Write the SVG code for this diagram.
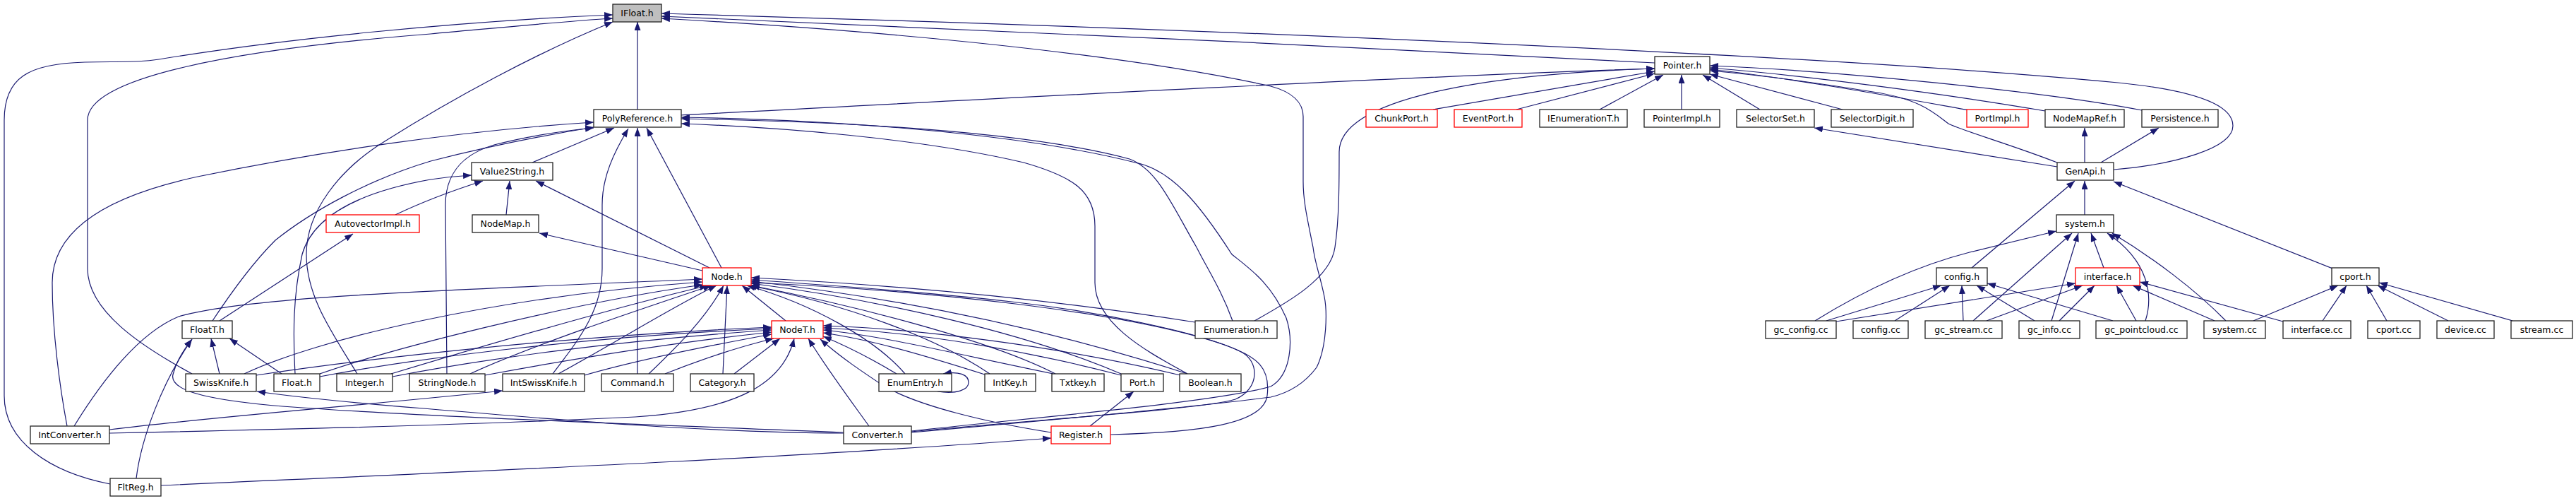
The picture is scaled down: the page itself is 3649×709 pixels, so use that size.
<svg xmlns="http://www.w3.org/2000/svg" width="3649" height="709" viewBox="0 0 3649 709">
<style>
.e{fill:none;stroke:#191970;stroke-width:1.2;marker-end:url(#ah)}
.b{fill:#fff;stroke:#222;stroke-width:1.3}
.r{fill:#fff;stroke:#ff0000;stroke-width:1.3}
.g{fill:#bfbfbf;stroke:#222;stroke-width:1.3}
text{font-family:"DejaVu Sans","Liberation Sans",sans-serif;font-size:12.5px;fill:#000;text-anchor:middle}
</style>
<defs>
<marker id="ah" markerWidth="12" markerHeight="9" refX="12" refY="4.5" orient="auto" markerUnits="userSpaceOnUse"><path d="M0,0 L12,4.5 L0,9 Z" fill="#191970"/></marker>
</defs>
<rect width="3649" height="709" fill="#fff"/>
<g id="edges">
<path class="e" d="M903,155 L903,31"/>
<path class="e" d="M2344,89 C1900,65 1300,38 937,23"/>
<path class="e" d="M2994,240 C3080,233 3163,210 3163,178 C3163,148 3110,128 3000,117 C2500,70 1500,35 937,19"/>
<path class="e" d="M1291,612 C1450,598 1700,575 1800,562 C1830,555 1850,540 1865,520 C1880,490 1880,440 1876,420 C1870,390 1862,370 1860,350 C1852,310 1846,285 1846,257 L1846,165 C1846,145 1830,130 1800,122 C1700,100 1450,55 937,26"/>
<path class="e" d="M272,529 C200,490 124,440 124,380 L124,170 C124,110 330,70 610,48 C720,38 800,30 868,26"/>
<path class="e" d="M156,685 C70,668 6,625 6,560 L6,170 C6,110 40,90 120,88 C180,87 200,88 225,84 C400,55 650,30 868,21"/>
<path class="e" d="M506,529 C470,470 434,420 434,360 C434,300 480,240 545,200 C640,140 760,75 868,31"/>
<path class="e" d="M964,163 C1400,140 2000,108 2344,97"/>
<path class="e" d="M1777,454 C1820,430 1885,395 1891,350 C1897,310 1897,260 1897,215 C1897,140 2100,105 2344,97"/>
<path class="e" d="M2030,155 L2344,101"/>
<path class="e" d="M2148,155 L2344,104"/>
<path class="e" d="M2266,155 L2356,106"/>
<path class="e" d="M2382,155 L2382,106"/>
<path class="e" d="M2493,155 L2412,106"/>
<path class="e" d="M2610,155 L2422,105"/>
<path class="e" d="M2914,230 C2850,205 2780,185 2760,175 C2740,160 2720,140 2653,130 C2560,115 2480,105 2422,100"/>
<path class="e" d="M2790,156 C2700,140 2550,112 2422,98"/>
<path class="e" d="M2897,157 C2750,132 2550,106 2422,96"/>
<path class="e" d="M3034,156 C2900,130 2600,100 2422,93"/>
<path class="e" d="M2953,304 L2953,256"/>
<path class="e" d="M2953,230 L2953,181"/>
<path class="e" d="M2914,236 L2570,181"/>
<path class="e" d="M2976,230 L3058,181"/>
<path class="e" d="M2793,379 L2939,256"/>
<path class="e" d="M3304,380 L2994,257"/>
<path class="e" d="M2571,454 C2650,405 2720,375 2790,357 L2913,327"/>
<path class="e" d="M2795,454 L2935,330"/>
<path class="e" d="M2906,454 L2944,330"/>
<path class="e" d="M2980,379 L2962,330"/>
<path class="e" d="M3039,454 C3050,420 3045,370 2985,330"/>
<path class="e" d="M3153,454 C3110,410 3050,365 2992,330"/>
<path class="e" d="M2587,454 L2750,404"/>
<path class="e" d="M2684,454 L2762,404"/>
<path class="e" d="M2781,454 L2779,404"/>
<path class="e" d="M2882,454 L2800,404"/>
<path class="e" d="M2993,454 L2815,401"/>
<path class="e" d="M2601,455 L2940,401"/>
<path class="e" d="M2814,454 L2950,404"/>
<path class="e" d="M2917,454 L2967,404"/>
<path class="e" d="M3026,454 L2998,404"/>
<path class="e" d="M3137,454 L3021,404"/>
<path class="e" d="M3234,455 L3031,399"/>
<path class="e" d="M3192,454 L3312,404"/>
<path class="e" d="M3290,454 L3324,404"/>
<path class="e" d="M3381,454 L3352,404"/>
<path class="e" d="M3468,454 L3368,404"/>
<path class="e" d="M3559,454 L3370,400"/>
<path class="e" d="M95,603 C85,550 74,470 74,400 C74,330 140,280 280,250 C450,215 650,185 841,173"/>
<path class="e" d="M301,454 C330,410 360,370 390,340 C440,300 520,255 610,228 C700,205 780,190 841,180"/>
<path class="e" d="M633,529 L631,290 C631,250 650,220 700,205 C750,192 800,185 841,181"/>
<path class="e" d="M783,529 C820,480 853,440 853,380 L853,290 C853,250 870,215 890,182"/>
<path class="e" d="M903,529 L903,181"/>
<path class="e" d="M1022,379 L916,181"/>
<path class="e" d="M754,230 L870,181"/>
<path class="e" d="M1746,454 C1730,410 1710,380 1695,350 C1660,290 1640,240 1600,225 C1450,185 1200,172 965,168"/>
<path class="e" d="M1682,529 C1630,500 1551,460 1551,400 L1551,320 C1551,270 1520,250 1450,230 C1300,195 1100,180 965,175"/>
<path class="e" d="M1291,610 C1450,592 1720,570 1800,547 C1830,530 1832,480 1822,450 C1800,400 1770,380 1745,360 C1700,290 1660,240 1608,230 C1450,190 1200,170 965,166"/>
<path class="e" d="M418,529 C415,470 415,420 428,360 C445,300 520,270 610,254 C630,251 650,249 668,248"/>
<path class="e" d="M560,304 C600,285 640,270 684,256"/>
<path class="e" d="M717,304 L722,256"/>
<path class="e" d="M1005,379 L759,256"/>
<path class="e" d="M995,383 L764,330"/>
<path class="e" d="M311,454 L500,331"/>
<path class="e" d="M105,603 C150,530 200,470 253,448 C350,420 600,412 995,395"/>
<path class="e" d="M346,529 C450,480 700,420 995,399"/>
<path class="e" d="M453,529 C550,495 800,430 995,403"/>
<path class="e" d="M554,529 C650,500 850,440 1003,404"/>
<path class="e" d="M666,529 C750,490 900,440 1008,404"/>
<path class="e" d="M791,529 C880,480 960,430 1015,404"/>
<path class="e" d="M919,529 C960,490 1000,450 1025,404"/>
<path class="e" d="M1024,529 L1030,404"/>
<path class="e" d="M1113,454 L1051,404"/>
<path class="e" d="M1693,456 C1500,425 1300,405 1064,393"/>
<path class="e" d="M1682,529 C1500,470 1300,425 1064,398"/>
<path class="e" d="M1588,529 C1450,470 1250,425 1064,401"/>
<path class="e" d="M1495,529 C1400,480 1200,430 1064,404"/>
<path class="e" d="M1402,529 C1330,480 1200,430 1060,404"/>
<path class="e" d="M1282,529 C1240,480 1150,430 1058,404"/>
<path class="e" d="M1291,611 C1450,595 1700,580 1750,565 C1785,550 1785,510 1756,497 C1700,470 1550,440 1433,427 C1300,412 1150,402 1064,396"/>
<path class="e" d="M1573,615 C1700,612 1790,600 1795,560 C1800,520 1780,505 1740,490 C1600,440 1300,410 1064,400"/>
<path class="e" d="M363,531 C500,510 800,475 1093,463"/>
<path class="e" d="M453,533 C600,505 850,475 1093,465"/>
<path class="e" d="M556,533 C700,505 900,480 1093,467"/>
<path class="e" d="M687,531 C800,510 950,485 1093,470"/>
<path class="e" d="M828,531 C900,510 1000,490 1093,473"/>
<path class="e" d="M942,529 C990,510 1050,490 1096,479"/>
<path class="e" d="M1040,529 L1105,479"/>
<path class="e" d="M155,613 C400,608 700,600 900,590 C1050,580 1110,540 1125,479"/>
<path class="e" d="M1231,603 C1200,560 1170,520 1145,479"/>
<path class="e" d="M1489,612 C1400,598 1300,575 1250,545 C1220,525 1190,505 1162,480"/>
<path class="e" d="M1270,529 C1230,505 1200,490 1166,476"/>
<path class="e" d="M1395,530 C1300,500 1230,480 1166,471"/>
<path class="e" d="M1492,529 C1350,500 1250,475 1166,467"/>
<path class="e" d="M1588,531 C1450,495 1300,470 1166,464"/>
<path class="e" d="M1672,531 C1500,490 1300,465 1166,461"/>
<path class="e" d="M1195,612 C900,600 600,590 400,575 C280,565 240,550 245,530 C250,510 260,495 272,480"/>
<path class="e" d="M193,677 C200,620 230,540 272,480"/>
<path class="e" d="M311,529 L299,479"/>
<path class="e" d="M399,529 L325,479"/>
<path class="e" d="M1195,613 C1000,612 800,595 600,578 C500,570 420,562 364,554"/>
<path class="e" d="M155,608 C300,590 500,575 712,553"/>
<path class="e" d="M228,687 C600,670 1100,650 1489,620"/>
<path class="e" d="M1544,603 L1606,554"/>
<path class="e" d="M1328,554 C1355,558 1372,552 1372,541 C1372,530 1358,525 1336,529"/>
</g>
<g id="IFloat_h"><rect class="g" x="868" y="6" width="69" height="25"/><text x="902.5" y="22.5">IFloat.h</text></g>
<g id="Pointer_h"><rect class="b" x="2344" y="80" width="78" height="25"/><text x="2383" y="96.5">Pointer.h</text></g>
<g id="PolyReference_h"><rect class="b" x="841" y="155" width="124" height="25"/><text x="903" y="171.5">PolyReference.h</text></g>
<g id="ChunkPort_h"><rect class="r" x="1935" y="155" width="101" height="25"/><text x="1985.5" y="171.5">ChunkPort.h</text></g>
<g id="EventPort_h"><rect class="r" x="2060" y="155" width="96" height="25"/><text x="2108" y="171.5">EventPort.h</text></g>
<g id="IEnumerationT_h"><rect class="b" x="2181" y="155" width="124" height="25"/><text x="2243" y="171.5">IEnumerationT.h</text></g>
<g id="PointerImpl_h"><rect class="b" x="2329" y="155" width="107" height="25"/><text x="2382.5" y="171.5">PointerImpl.h</text></g>
<g id="SelectorSet_h"><rect class="b" x="2460" y="155" width="110" height="25"/><text x="2515" y="171.5">SelectorSet.h</text></g>
<g id="SelectorDigit_h"><rect class="b" x="2594" y="155" width="116" height="25"/><text x="2652" y="171.5">SelectorDigit.h</text></g>
<g id="PortImpl_h"><rect class="r" x="2786" y="155" width="87" height="25"/><text x="2829.5" y="171.5">PortImpl.h</text></g>
<g id="NodeMapRef_h"><rect class="b" x="2897" y="155" width="112" height="25"/><text x="2953" y="171.5">NodeMapRef.h</text></g>
<g id="Persistence_h"><rect class="b" x="3034" y="155" width="108" height="25"/><text x="3088" y="171.5">Persistence.h</text></g>
<g id="Value2String_h"><rect class="b" x="668" y="230" width="115" height="25"/><text x="725.5" y="246.5">Value2String.h</text></g>
<g id="GenApi_h"><rect class="b" x="2914" y="230" width="80" height="25"/><text x="2954" y="246.5">GenApi.h</text></g>
<g id="AutovectorImpl_h"><rect class="r" x="462" y="304" width="132" height="25"/><text x="528" y="320.5">AutovectorImpl.h</text></g>
<g id="NodeMap_h"><rect class="b" x="669" y="304" width="94" height="25"/><text x="716" y="320.5">NodeMap.h</text></g>
<g id="system_h"><rect class="b" x="2913" y="304" width="81" height="25"/><text x="2953.5" y="320.5">system.h</text></g>
<g id="Node_h"><rect class="r" x="995" y="379" width="69" height="25"/><text x="1029.5" y="395.5">Node.h</text></g>
<g id="config_h"><rect class="b" x="2743" y="379" width="72" height="25"/><text x="2779" y="395.5">config.h</text></g>
<g id="interface_h"><rect class="r" x="2940" y="379" width="91" height="25"/><text x="2985.5" y="395.5">interface.h</text></g>
<g id="cport_h"><rect class="b" x="3303" y="379" width="67" height="25"/><text x="3336.5" y="395.5">cport.h</text></g>
<g id="FloatT_h"><rect class="b" x="258" y="454" width="71" height="25"/><text x="293.5" y="470.5">FloatT.h</text></g>
<g id="NodeT_h"><rect class="r" x="1093" y="454" width="73" height="25"/><text x="1129.5" y="470.5">NodeT.h</text></g>
<g id="Enumeration_h"><rect class="b" x="1693" y="454" width="116" height="25"/><text x="1751" y="470.5">Enumeration.h</text></g>
<g id="gc_config_cc"><rect class="b" x="2501" y="454" width="100" height="25"/><text x="2551" y="470.5">gc_config.cc</text></g>
<g id="config_cc"><rect class="b" x="2625" y="454" width="78" height="25"/><text x="2664" y="470.5">config.cc</text></g>
<g id="gc_stream_cc"><rect class="b" x="2727" y="454" width="109" height="25"/><text x="2781.5" y="470.5">gc_stream.cc</text></g>
<g id="gc_info_cc"><rect class="b" x="2860" y="454" width="86" height="25"/><text x="2903" y="470.5">gc_info.cc</text></g>
<g id="gc_pointcloud_cc"><rect class="b" x="2969" y="454" width="129" height="25"/><text x="3033.5" y="470.5">gc_pointcloud.cc</text></g>
<g id="system_cc"><rect class="b" x="3122" y="454" width="87" height="25"/><text x="3165.5" y="470.5">system.cc</text></g>
<g id="interface_cc"><rect class="b" x="3234" y="454" width="96" height="25"/><text x="3282" y="470.5">interface.cc</text></g>
<g id="cport_cc"><rect class="b" x="3354" y="454" width="74" height="25"/><text x="3391" y="470.5">cport.cc</text></g>
<g id="device_cc"><rect class="b" x="3452" y="454" width="81" height="25"/><text x="3492.5" y="470.5">device.cc</text></g>
<g id="stream_cc"><rect class="b" x="3557" y="454" width="87" height="25"/><text x="3600.5" y="470.5">stream.cc</text></g>
<g id="SwissKnife_h"><rect class="b" x="263" y="529" width="100" height="25"/><text x="313" y="545.5">SwissKnife.h</text></g>
<g id="Float_h"><rect class="b" x="388" y="529" width="65" height="25"/><text x="420.5" y="545.5">Float.h</text></g>
<g id="Integer_h"><rect class="b" x="477" y="529" width="79" height="25"/><text x="516.5" y="545.5">Integer.h</text></g>
<g id="StringNode_h"><rect class="b" x="580" y="529" width="107" height="25"/><text x="633.5" y="545.5">StringNode.h</text></g>
<g id="IntSwissKnife_h"><rect class="b" x="712" y="529" width="116" height="25"/><text x="770" y="545.5">IntSwissKnife.h</text></g>
<g id="Command_h"><rect class="b" x="852" y="529" width="102" height="25"/><text x="903" y="545.5">Command.h</text></g>
<g id="Category_h"><rect class="b" x="978" y="529" width="90" height="25"/><text x="1023" y="545.5">Category.h</text></g>
<g id="EnumEntry_h"><rect class="b" x="1245" y="529" width="103" height="25"/><text x="1296.5" y="545.5">EnumEntry.h</text></g>
<g id="IntKey_h"><rect class="b" x="1395" y="529" width="72" height="25"/><text x="1431" y="545.5">IntKey.h</text></g>
<g id="Txtkey_h"><rect class="b" x="1490" y="529" width="74" height="25"/><text x="1527" y="545.5">Txtkey.h</text></g>
<g id="Port_h"><rect class="b" x="1588" y="529" width="60" height="25"/><text x="1618" y="545.5">Port.h</text></g>
<g id="Boolean_h"><rect class="b" x="1671" y="529" width="87" height="25"/><text x="1714.5" y="545.5">Boolean.h</text></g>
<g id="IntConverter_h"><rect class="b" x="43" y="603" width="112" height="25"/><text x="99" y="619.5">IntConverter.h</text></g>
<g id="Converter_h"><rect class="b" x="1195" y="603" width="96" height="25"/><text x="1243" y="619.5">Converter.h</text></g>
<g id="Register_h"><rect class="r" x="1489" y="603" width="84" height="25"/><text x="1531" y="619.5">Register.h</text></g>
<g id="FltReg_h"><rect class="b" x="156" y="677" width="72" height="25"/><text x="192" y="693.5">FltReg.h</text></g>
</svg>
